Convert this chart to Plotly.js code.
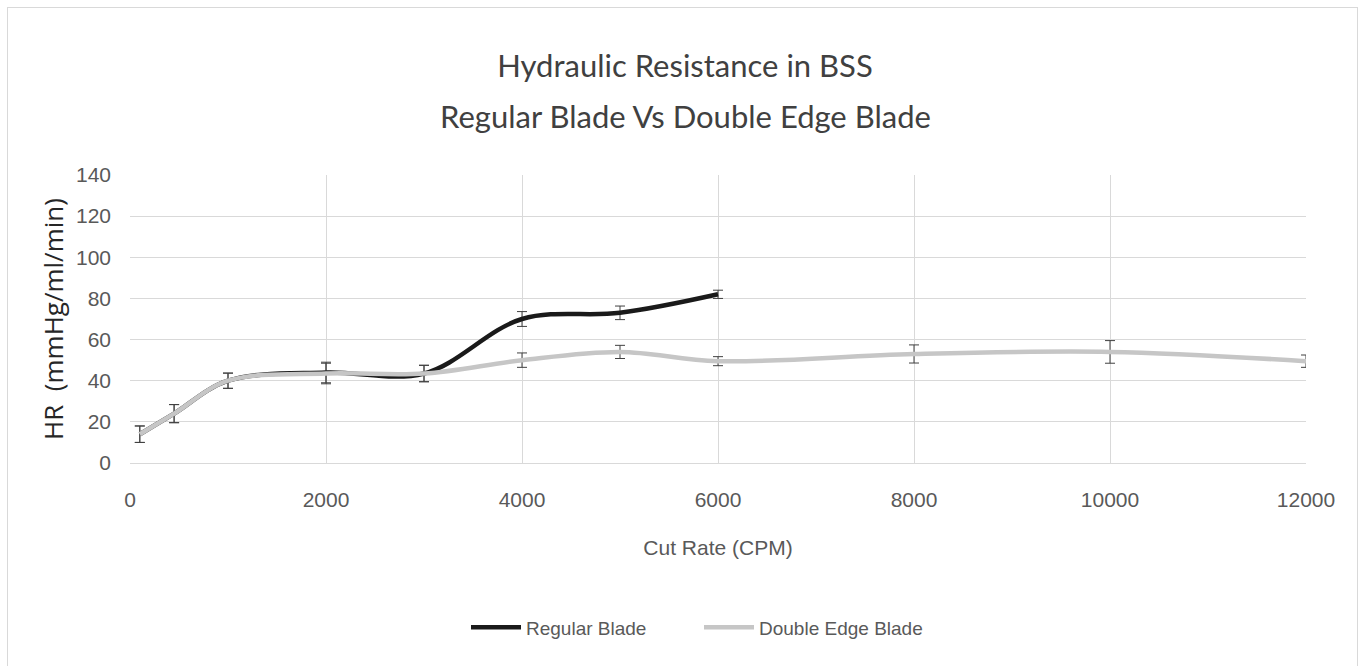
<!DOCTYPE html>
<html>
<head>
<meta charset="utf-8">
<script src="https://cdn.plot.ly/plotly-3.0.1.min.js"></script>
<style>
  html, body { margin: 0; padding: 0; background: #ffffff; }
  #frame { position: absolute; left: 7px; top: 7px; width: 1351px; height: 670px; border: 1px solid #d9d9d9; box-sizing: border-box; }
  #chart { position: absolute; left: 0; top: 0; width: 1361px; height: 666px; }
</style>
</head>
<body>
<div id="frame"></div>
<div id="chart"></div>
<script>
// Data
const regularX = [100, 450, 1000, 2000, 3000, 4000, 5000, 6000];
const regularY = [14, 24, 40, 44, 43.5, 70, 73, 82];
const regularErr = [4, 4.4, 3.7, 5, 4, 3.6, 3.3, 2];

const doubleX = [100, 450, 1000, 2000, 3000, 4000, 5000, 6000, 8000, 10000, 12000];
const doubleY = [14, 24, 40, 43.5, 43.5, 50, 54, 49.5, 53, 54, 49.5];
const doubleErr = [4, 4.4, 3.7, 5, 4, 3.5, 3.2, 2.2, 4.4, 5.5, 3];

const xTicks = [0, 2000, 4000, 6000, 8000, 10000, 12000];
const yTicks = [0, 20, 40, 60, 80, 100, 120, 140];

const titleLine1 = 'Hydraulic Resistance in BSS';
const titleLine2 = 'Regular Blade Vs Double Edge Blade';

const tickFont = { family: 'Liberation Sans, Arial, sans-serif', size: 21, color: '#595959' };
const titleFont = { family: 'Lato, sans-serif', size: 31, color: '#404040' };

const traces = [
  {
    name: 'Regular Blade',
    x: regularX, y: regularY, type: 'scatter', mode: 'lines',
    line: { color: '#1a1a1a', width: 4.5, shape: 'spline', smoothing: 1 },
    error_y: { type: 'data', array: regularErr, visible: true, color: '#404040', thickness: 1, width: 5 }
  },
  {
    name: 'Double Edge Blade',
    x: doubleX, y: doubleY, type: 'scatter', mode: 'lines',
    line: { color: '#c6c6c6', width: 4.5, shape: 'spline', smoothing: 1 },
    error_y: { type: 'data', array: doubleErr, visible: true, color: '#404040', thickness: 1, width: 5 }
  }
];

const layout = {
  width: 1361, height: 666,
  margin: { l: 130, r: 55, t: 175, b: 203 },
  paper_bgcolor: 'rgba(0,0,0,0)',
  plot_bgcolor: '#ffffff',
  showlegend: true,
  title: {
    text: titleLine1,
    font: titleFont,
    xref: 'container', x: 685 / 1361, xanchor: 'center', yref: 'container', y: 1 - 66 / 666, yanchor: 'middle'
  },
  annotations: [{
    text: titleLine2, font: titleFont, showarrow: false,
    xref: 'paper', yref: 'paper', x: (685 - 130) / 1176, xanchor: 'center',
    y: (463 - 116) / 288, yanchor: 'middle'
  }],
  xaxis: {
    range: [0, 12000], tickvals: xTicks, ticktext: xTicks.map(String),
    showgrid: true, gridcolor: '#d9d9d9', gridwidth: 1,
    zeroline: false, showline: true, linecolor: '#d9d9d9', linewidth: 1,
    ticks: '', tickfont: tickFont, ticklabelstandoff: 18,
    title: { text: 'Cut Rate (CPM)', font: tickFont, standoff: 30 }
  },
  yaxis: {
    range: [0, 140], tickvals: yTicks, ticktext: yTicks.map(String),
    showgrid: true, gridcolor: '#d9d9d9', gridwidth: 1,
    zeroline: false, showline: false,
    ticks: '', tickfont: tickFont, ticklabelstandoff: 18,
    title: { text: 'HR  (mmHg/ml/min)', font: { family: 'Open Sans, sans-serif', size: 26, color: '#262626' }, standoff: 4 }
  },
  legend: {
    orientation: 'h', x: (699 - 130) / 1176, xanchor: 'center', xref: 'paper',
    y: -0.571, yanchor: 'middle',
    font: { family: 'Liberation Sans, Arial, sans-serif', size: 19, color: '#595959' },
    itemwidth: 50, tracegroupgap: 0, entrywidth: 168, entrywidthmode: 'pixels'
  }
};

Plotly.newPlot('chart', traces, layout, { displayModeBar: false, staticPlot: true });
</script>
</body>
</html>
